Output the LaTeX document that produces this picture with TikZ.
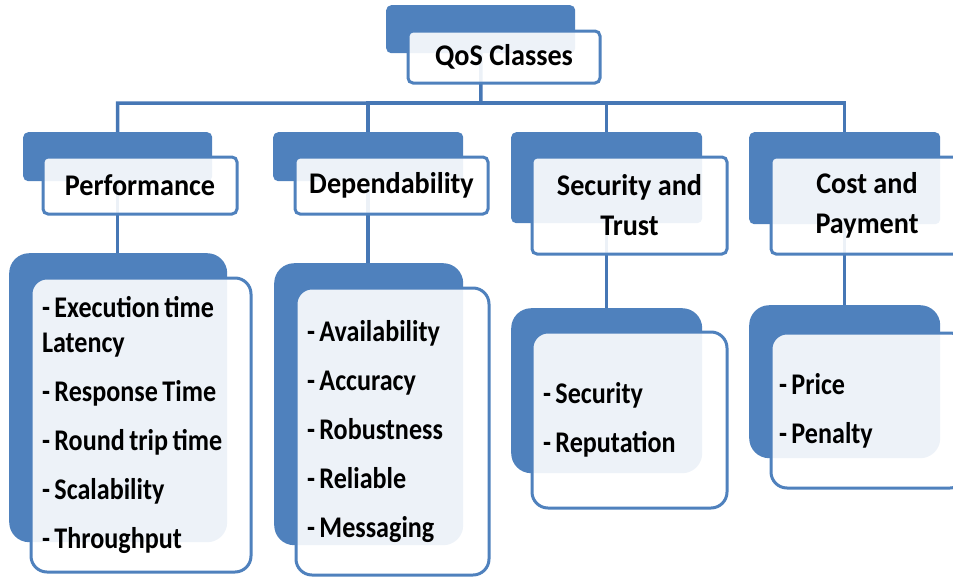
\documentclass[tikz,border=0pt]{standalone}
\usepackage{fontspec}
\setmainfont{Carlito}
\newfontfamily\qosfont{Carlito}[FakeStretch=0.94]
\newfontfamily\qositemfont{Carlito}[FakeStretch=0.87]
\usepackage{tikz}
\usetikzlibrary{positioning,calc,backgrounds}
\definecolor{qosblue}{HTML}{4F81BD}
\definecolor{linkblue}{HTML}{4677B5}

\tikzset{
  backbox/.style={fill=qosblue, rounded corners=5pt, anchor=north west, inner sep=0pt},
  frontbox/.style={draw=qosblue, line width=3pt, fill=white, fill opacity=0.9, text opacity=1,
    rounded corners=5pt, anchor=north west, inner sep=0pt, align=center,
    font=\qosfont\bfseries\fontsize{30}{40}\selectfont},
  listback/.style={backbox, rounded corners=20pt},
  listfront/.style={frontbox, rounded corners=16pt, align=left, inner xsep=11pt,
    font=\qositemfont\bfseries\fontsize{30}{35}\selectfont,
    execute at begin node={\spaceskip=4.5pt\relax\xspaceskip=4.5pt\relax}},
  link/.style={draw=linkblue, line width=3.5pt}
}

\begin{document}
\begin{tikzpicture}[x=1pt,y=-1pt]
\useasboundingbox (0,0) rectangle (953,576);
\clip (0,0) rectangle (953,576);

% back boxes
\node[backbox, minimum width=189pt, minimum height=48pt] (qosB) at (386,5) {};
\node[backbox, minimum width=189pt, minimum height=49pt] (perfB) at (23,132) {};
\node[backbox, minimum width=190pt, minimum height=49pt] (depB) at (273,132) {};
\node[backbox, minimum width=191pt, minimum height=91pt] (secB) at (511,132) {};
\node[backbox, minimum width=191pt, minimum height=92pt] (costB) at (749,132) {};

\node[listback, minimum width=218pt, minimum height=289pt] (perfLB) at (9,253) {};
\node[listback, minimum width=189pt, minimum height=282pt] (depLB) at (274,263) {};
\node[listback, minimum width=191pt, minimum height=165pt] (secLB) at (511,308) {};
\node[listback, minimum width=191pt, minimum height=153pt] (costLB) at (749,305) {};

% connectors
\coordinate (bus) at (481,103);
\begin{scope}[on background layer]
\draw[link] (qosB.center) -- (bus) -| (perfB.center);
\draw[link] (bus) -| (depB.center);
\draw[link] (bus) -| (secB.center);
\draw[link] (bus) -| (costB.center);
\draw[link] (perfB.center) -- (perfB.center |- perfLB.center);
\draw[link] (depB.center) -- (depB.center |- depLB.center);
\draw[link] (secB.center) -- (secB.center |- secLB.center);
\draw[link] (costB.center) -- (costB.center |- costLB.center);
\end{scope}

% front boxes
\node[frontbox, minimum width=192pt, minimum height=52pt] (qos) at (406.5,29.5) {QoS Classes};
\node[frontbox, minimum width=194pt, minimum height=57pt] (perf) at (41.5,155.5) {Performance};
\node[frontbox, minimum width=193pt, minimum height=57pt] (dep) at (293.5,155.5) {Dependability};
\node[frontbox, minimum width=195pt, minimum height=97pt] (sec) at (530.5,155.5) {Security and\\Trust};
\node[frontbox, minimum width=192pt, minimum height=97pt] (cost) at (769.5,155.5) {Cost and\\Payment};

\node[listfront, text width=198pt, minimum height=294pt] (perfL) at (29.5,276.5)
  {- Execution time\\Latency\\[14pt]- Response Time\\[14pt]- Round trip time\\[14pt]- Scalability\\[14pt]- Throughput};
\node[listfront, text width=171pt, minimum height=287pt] (depL) at (294.5,286.5)
  {- Availability\\[14pt]- Accuracy\\[14pt]- Robustness\\[14pt]- Reliable\\[14pt]- Messaging};
\node[listfront, text width=173pt, minimum height=176pt] (secL) at (530.5,330.5)
  {- Security\\[14pt]- Reputation};
\node[listfront, inner xsep=8pt, text width=179pt, minimum height=155pt] (costL) at (769.5,331.5)
  {- Price\\[14pt]- Penalty};
\end{tikzpicture}
\end{document}
